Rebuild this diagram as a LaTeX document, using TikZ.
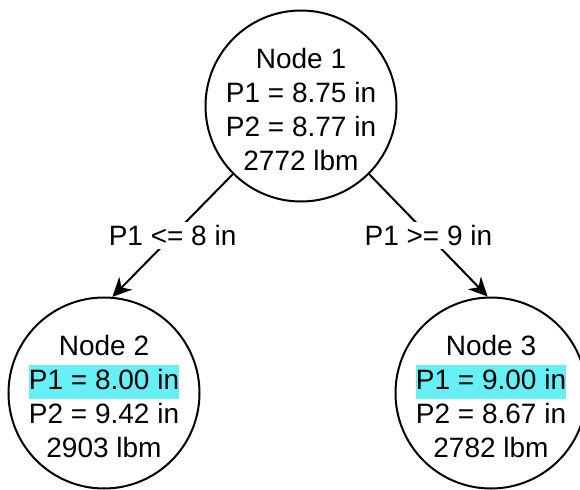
\documentclass[tikz,border=0pt]{standalone}
\usepackage{fontspec}
\setmainfont{Liberation Sans}
\usepackage{tikz}
\usetikzlibrary{arrows.meta, positioning}
\usepackage{xcolor}
\definecolor{splitcyan}{RGB}{102, 240, 245}
\newcommand{\hlval}[1]{{\setlength{\fboxsep}{0pt}\colorbox{splitcyan}{\strut #1}}}

\begin{document}
\begin{tikzpicture}[x=0.5pt, y=-0.5pt,
    treenode/.style={circle, draw, line width=1pt, minimum size=95.5pt, inner sep=0pt},
    nodetext/.style={align=center, font=\fontsize{14}{17}\selectfont, inner sep=0pt, yshift=-1.5pt},
    branch/.style={line width=1pt, -{Stealth[length=9.5pt, width=9pt, inset=3pt]}},
    cond/.style={fill=white, font=\fontsize{14}{17}\selectfont, inner sep=1.5pt}]
        \useasboundingbox (0,0) rectangle (580,489);
        % Tree nodes
        \node[treenode] (n1) at (301,106) {};
        \node[treenode] (n2) at (104,393) {};
        \node[treenode] (n3) at (491,393) {};
        \node[nodetext] (t1) at (n1) {Node 1\\P1 = 8.75 in\\P2 = 8.77 in\\2772 lbm};
        \node[nodetext] (t2) at (n2) {Node 2\\\hlval{P1 = 8.00 in}\\P2 = 9.42 in\\2903 lbm};
        \node[nodetext] (t3) at (n3) {Node 3\\\hlval{P1 = 9.00 in}\\P2 = 8.67 in\\2782 lbm};
        % Splits
        \draw[branch] (n1.225) -- node[cond] (c1) {P1 <= 8 in} (n2.85);
        \draw[branch] (n1.315) -- node[cond] (c2) {P1 >= 9 in} (n3.92);
      \end{tikzpicture}
\end{document}
